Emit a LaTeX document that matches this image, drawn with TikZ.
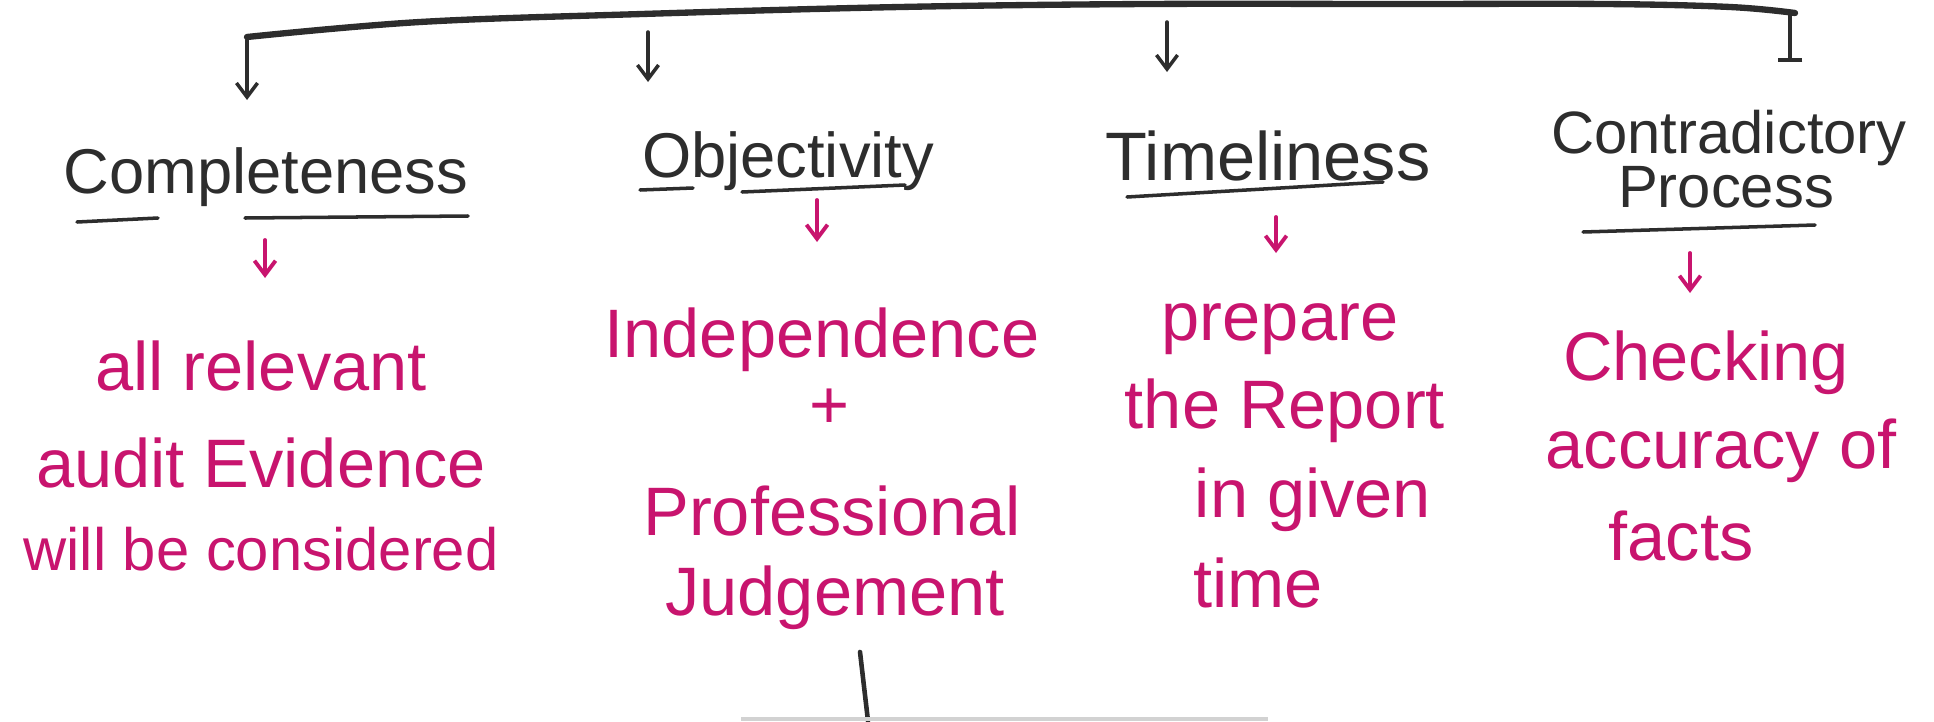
\documentclass[tikz,border=0pt]{standalone}
\usepackage{fontspec}
\setmainfont{Liberation Sans}
\usetikzlibrary{arrows.meta}
\definecolor{inkpink}{RGB}{200,20,110}
\definecolor{inkdark}{RGB}{45,45,45}

\begin{document}
\begin{tikzpicture}[x=0.01cm,y=-0.01cm,
  head/.style={inkdark,font=\fontsize{18}{20}\selectfont,inner sep=1pt,anchor=base},
  note/.style={inkpink,font=\fontsize{19.5}{24}\selectfont,inner sep=1pt,anchor=base},
  ink/.style={inkdark,line width=1pt,line cap=round},
  blackarr/.style={ink,-{Straight Barb[length=4pt,width=6pt]}},
  pinkarr/.style={inkpink,line width=1.1pt,line cap=round,-{Straight Barb[length=4pt,width=6pt]}}]
\path[use as bounding box] (0,0) rectangle (1934,721);

% top bracket
\draw[inkdark,line width=1.8pt,line cap=round] plot[smooth,tension=0.6] coordinates {(247,37) (420,22) (642,14) (900,7) (1148,4) (1400,4) (1605,4) (1730,7) (1795,13)};

\foreach \n/\x/\ya/\yb in {1/247/40/100, 2/648/32/82, 3/1167/22/72} {
  \coordinate (top\n) at (\x,\ya);
  \coordinate (end\n) at (\x,\yb);
  \path[draw,blackarr] (top\n) -- (end\n);
}
\coordinate (top4) at (1790,14);
\coordinate (end4) at (1790,62);
\path[draw,ink,-{Bar[width=7pt]}] (top4) -- (end4);

% headings
\node[head] (comp) at (266,193) {Completeness};
\node[head] (obj) at (788,177) {Objectivity};
\node[head,font=\fontsize{19.5}{20}\selectfont] (time) at (1268,180) {Timeliness};
\node[head,font=\fontsize{17}{20}\selectfont] (contra) at (1729,153) {Contradictory};
\node[head,font=\fontsize{17}{20}\selectfont] (proc) at (1726,207) {Process};

\draw[ink] (77,222) -- (158,218);
\draw[ink] (245,218) -- (468,216);
\draw[ink] (640,190) -- (693,188);
\draw[ink] (742,192) -- (905,185);
\draw[ink] (1127,197) -- (1383,182);
\draw[ink] (1583,232) -- (1815,225);

% pink notes
\node[note] (rel1) at (261,390) {all relevant};
\node[note] (rel2) at (261,487) {audit Evidence};
\node[note,font=\fontsize{17}{24}\selectfont] (rel3) at (261,570) {will be considered};

\node[note] (ind1) at (822,357) {Independence};
\node[note] (ind2) at (830,428) {+};
\node[note] (ind3) at (832,535) {Professional};
\node[note] (ind4) at (835,615) {Judgement};

\node[note] (rep1) at (1280,340) {prepare};
\node[note] (rep2) at (1285,428) {the Report};
\node[note] (rep3) at (1313,517) {in given};
\node[note] (rep4) at (1258,607) {time};

\node[note] (chk1) at (1706,380) {Checking};
\node[note] (chk2) at (1721,468) {accuracy of};
\node[note] (chk3) at (1681,560) {facts};

\foreach \n/\x/\ya/\yb in {1/265/240/278, 2/817/200/242, 3/1276/217/253, 4/1690/253/293} {
  \coordinate (pa\n) at (\x,\ya);
  \coordinate (pb\n) at (\x,\yb);
  \path[draw,pinkarr] (pa\n) -- (pb\n);
}

% bottom stub
\coordinate (stub) at (860,652);
\coordinate (base) at (868,721);
\draw[ink,line width=1.3pt] (stub) -- (base);
\coordinate (basel) at (741,719);
\coordinate (baser) at (1268,719);
\draw[gray!35,line width=1pt] (basel) -- (baser);
\end{tikzpicture}
\end{document}
